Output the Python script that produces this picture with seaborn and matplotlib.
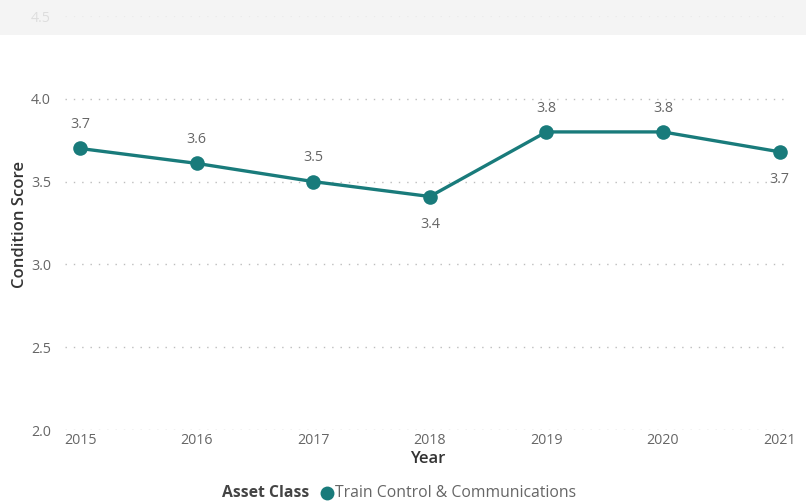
import matplotlib
matplotlib.use("Agg")
import matplotlib.pyplot as plt
from matplotlib.patches import Rectangle
from matplotlib.lines import Line2D
import seaborn as sns
import pandas as pd

years = [2015, 2016, 2017, 2018, 2019, 2020, 2021]
scores = [3.70, 3.61, 3.50, 3.41, 3.80, 3.80, 3.68]
label_below = [False, False, False, True, False, False, True]
y_ticks = [2.0, 2.5, 3.0, 3.5, 4.0, 4.5]
series_name = "Train Control & Communications"
legend_title = "Asset Class"

teal = "#197B7B"
tick_gray = "#666666"
dark = "#333333"

sns.set_theme(style="white")
plt.rcParams["font.family"] = ["Open Sans", "DejaVu Sans"]

df = pd.DataFrame({"Year": years, "Condition Score": scores})

fig = plt.figure(figsize=(8.06, 5.04), dpi=100)
ax = fig.add_axes([65 / 806, 1 - 430 / 504, (790 - 65) / 806, (430 - 16) / 504])

sns.lineplot(data=df, x="Year", y="Condition Score", ax=ax, color=teal,
             linewidth=2.4, marker="o", markersize=10.5, markeredgewidth=0,
             zorder=3)

ax.set_xlim(2014.87, 2021.09)
ax.set_ylim(2.0, 4.5)
ax.set_xticks(years)
ax.set_xticklabels([str(y) for y in years])
ax.set_yticks(y_ticks)
ax.set_yticklabels([f"{v:.1f}" for v in y_ticks])
ax.tick_params(axis="both", length=0, labelsize=10.3, colors=tick_gray)
ax.tick_params(axis="y", pad=10)
ax.tick_params(axis="x", pad=2)

for s in ax.spines.values():
    s.set_visible(False)
ax.grid(False)
for v in y_ticks:
    ax.axhline(v, color="#BDBDBD", linewidth=1.0, linestyle=(0, (1, 5)), zorder=1)

for x, y, below in zip(years, scores, label_below):
    ax.annotate(f"{y:.1f}", (x, y), xytext=(0, -20 if below else 17),
                textcoords="offset points", ha="center", va="center",
                fontsize=10.3, color=tick_gray)

ax.set_xlabel("Year", fontsize=12, color=dark, fontweight="semibold", labelpad=2)
ax.set_ylabel("Condition Score", fontsize=12, color=dark, fontweight="semibold",
              va="center")
ax.yaxis.set_label_coords(-45 / 725, (430 - 225) / 414)

# legend row at the bottom
fig.text(309 / 806, 1 - 493 / 504, legend_title, ha="right", va="center",
         fontsize=11.3, color="#444444", fontweight="bold")
fig.add_artist(Line2D([327 / 806], [1 - 493 / 504], marker="o", color=teal,
                      markersize=10, markeredgewidth=0, transform=fig.transFigure))
fig.text(335 / 806, 1 - 493 / 504, series_name, ha="left", va="center",
         fontsize=11.3, color=tick_gray)

# shaded header band across the top
fig.add_artist(Rectangle((0, 1 - 35 / 504), 1, 35 / 504, transform=fig.transFigure,
                         facecolor="#F3F3F3", alpha=0.85, edgecolor="none", zorder=10))

fig.savefig("out.png", dpi=100)
